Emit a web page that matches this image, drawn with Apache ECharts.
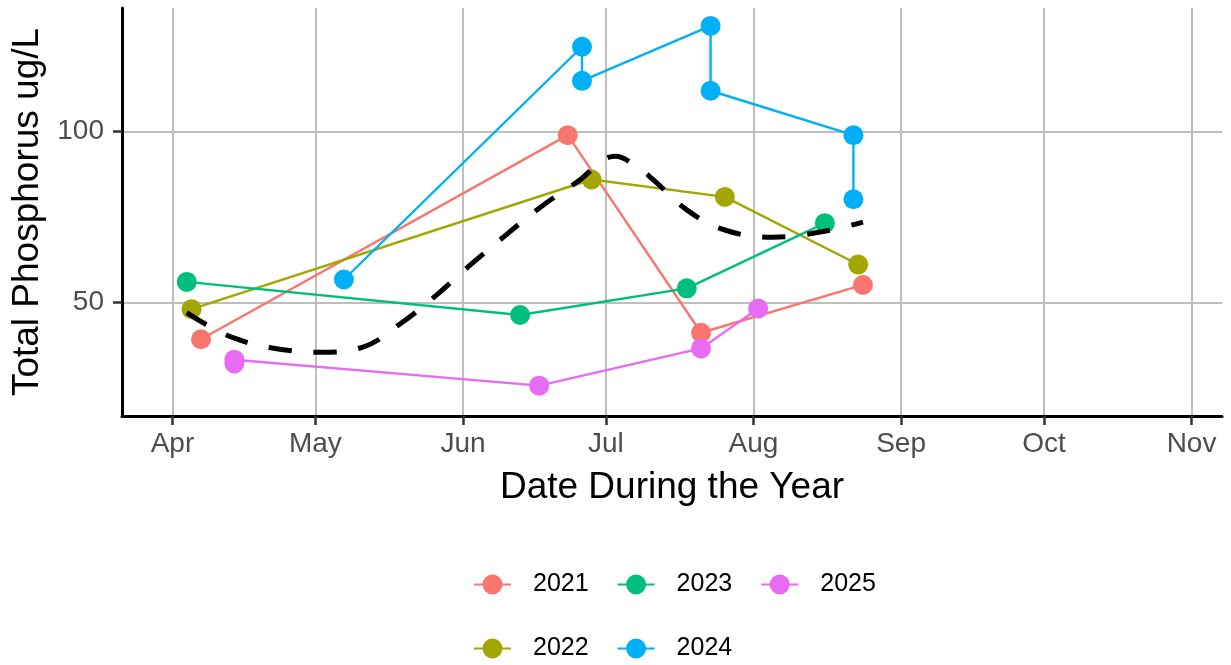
<!DOCTYPE html>
<html>
<head>
<meta charset="utf-8">
<script src="https://cdn.jsdelivr.net/npm/echarts@6/dist/echarts.min.js"></script>
<style>
  html, body { margin: 0; padding: 0; background: #fff; }
  #chart { width: 1231px; height: 665px; }
</style>
</head>
<body>
<div id="chart"></div>
<script>
// 各年份采样数据 (总磷 ug/L)
const dates2021 = ['2021-04-07', '2021-06-23', '2021-07-21', '2021-08-24'];
const tp2021 = [39.2, 99.0, 41.1, 55.1];

const dates2022 = ['2021-04-05', '2021-06-28', '2021-07-26', '2021-08-23'];
const tp2022 = [48.0, 86.0, 80.9, 61.1];

const dates2023 = ['2021-04-04', '2021-06-13', '2021-07-18', '2021-08-16'];
const tp2023 = [56.0, 46.3, 54.1, 73.2];

const dates2024 = ['2021-05-07', '2021-06-26', '2021-06-26', '2021-07-23', '2021-07-23', '2021-08-22', '2021-08-22'];
const tp2024 = [56.7, 124.9, 114.9, 131.0, 112.0, 99.0, 80.2];

const dates2025 = ['2021-04-14', '2021-04-14', '2021-06-17', '2021-07-21', '2021-08-02'];
const tp2025 = [32.1, 33.2, 25.6, 36.5, 48.2];

// 平滑趋势线
const smoothDates = ['2021-04-04', '2021-04-08', '2021-04-14', '2021-04-22', '2021-05-02', '2021-05-11',
  '2021-05-19', '2021-05-26', '2021-06-02', '2021-06-10', '2021-06-17', '2021-06-25', '2021-07-03',
  '2021-07-07', '2021-07-11', '2021-07-18', '2021-07-26', '2021-08-05', '2021-08-15', '2021-08-24'];
const smoothTp = [47.0, 43.6, 39.5, 36.6, 35.4, 36.9, 43.9, 51.6, 60.3, 69.7, 77.6, 85.3, 92.8,
  90.3, 85.9, 77.1, 71.2, 69.1, 70.6, 73.5];

// 刻度
const monthStarts = ['2021-04-01', '2021-05-01', '2021-06-01', '2021-07-01', '2021-08-01',
  '2021-09-01', '2021-10-01', '2021-11-01'];
const monthLabels = ['Apr', 'May', 'Jun', 'Jul', 'Aug', 'Sep', 'Oct', 'Nov'];
const yTicks = [50, 100];

const years = ['2021', '2022', '2023', '2024', '2025'];
const colors = ['#F8766D', '#A3A500', '#00BF7D', '#00B0F6', '#E76BF3'];
const allDates = [dates2021, dates2022, dates2023, dates2024, dates2025];
const allTp = [tp2021, tp2022, tp2023, tp2024, tp2025];

function toTime(s) {
  const p = s.split('-');
  return Date.UTC(+p[0], +p[1] - 1, +p[2]);
}

const DAY = 86400000;
const apr1 = toTime('2021-04-01');
const tickTimes = monthStarts.map(toTime);

const chart = echarts.init(document.getElementById('chart'));

const series = years.map((y, i) => ({
  name: y,
  type: 'line',
  data: allDates[i].map((d, j) => [toTime(d), allTp[i][j]]),
  symbol: 'circle',
  symbolSize: 20,
  lineStyle: { width: 2.4, color: colors[i] },
  itemStyle: { color: colors[i] },
  emphasis: { disabled: true },
  z: 2
}));

series.push({
  name: 'smooth',
  type: 'line',
  data: smoothDates.map((d, j) => [toTime(d), smoothTp[j]]),
  smooth: 0.4,
  symbol: 'none',
  lineStyle: { width: 5, color: '#000', type: [23, 22], cap: 'butt' },
  z: 5,
  silent: true
});

const legendText = {
  fontFamily: 'Liberation Sans',
  fontSize: 25,
  color: '#000',
  padding: [0, 0, 0, 17],
  lineHeight: 25
};

chart.setOption({
  animation: false,
  color: colors,
  grid: { left: 122, right: 9, top: 8, bottom: 249, containLabel: false, outerBoundsMode: 'none' },
  legend: [{
    data: ['2021', '2023', '2025'],
    left: 473, top: 572, padding: 0,
    itemWidth: 37, itemHeight: 25, itemGap: 28,
    textStyle: legendText
  }, {
    data: ['2022', '2024'],
    left: 473, top: 636, padding: 0,
    itemWidth: 37, itemHeight: 25, itemGap: 28,
    textStyle: legendText
  }],
  xAxis: {
    type: 'value',
    min: apr1 - 10.6 * DAY,
    max: apr1 + 220.4 * DAY,
    name: 'Date During the Year',
    nameLocation: 'middle',
    nameGap: 53,
    nameTextStyle: { fontFamily: 'Liberation Sans', fontSize: 37, color: '#000' },
    axisLine: { lineStyle: { color: '#000', width: 3 } },
    axisTick: { customValues: tickTimes, length: 9, lineStyle: { color: '#333', width: 2.5 } },
    axisLabel: {
      customValues: tickTimes,
      margin: 14,
      fontFamily: 'Liberation Sans',
      fontSize: 28,
      color: '#4D4D4D',
      formatter: v => monthLabels[tickTimes.indexOf(v)] || ''
    },
    splitLine: { show: true, lineStyle: { color: '#BEBEBE', width: 2 } },
    minorTick: { show: false }
  },
  yAxis: {
    type: 'value',
    min: 16.7,
    max: 136.25,
    name: 'Total Phosphorus ug/L',
    nameLocation: 'middle',
    nameRotate: 90,
    nameGap: 75,
    nameTextStyle: { fontFamily: 'Liberation Sans', fontSize: 37, color: '#000' },
    axisLine: { show: true, lineStyle: { color: '#000', width: 3 } },
    axisTick: { show: true, customValues: yTicks, length: 9, lineStyle: { color: '#333', width: 2.5 } },
    axisLabel: {
      customValues: yTicks,
      margin: 18,
      fontFamily: 'Liberation Sans',
      fontSize: 28,
      color: '#4D4D4D'
    },
    splitLine: { show: true, lineStyle: { color: '#BEBEBE', width: 2 } }
  },
  series: series
});
</script>
</body>
</html>
